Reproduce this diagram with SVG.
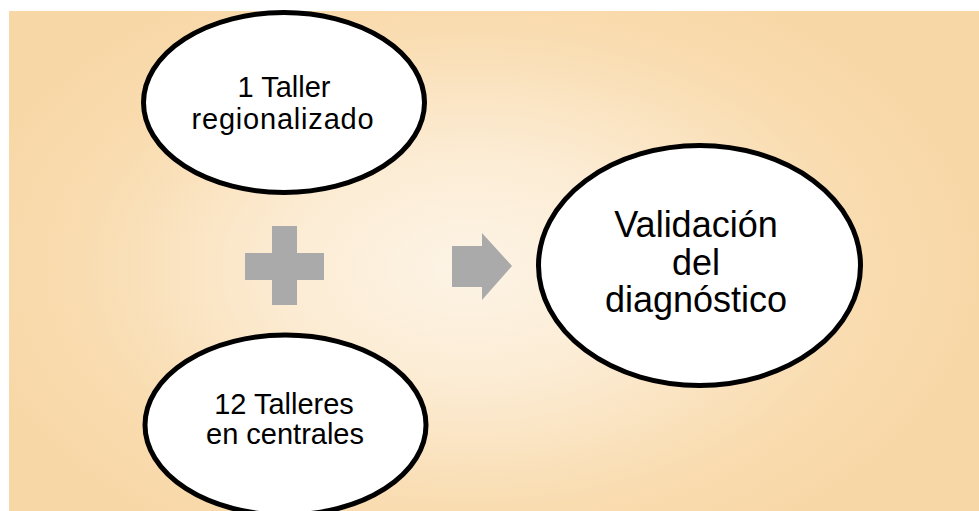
<svg xmlns="http://www.w3.org/2000/svg" width="979" height="511" viewBox="0 0 979 511">
  <defs>
    <radialGradient id="bg" gradientUnits="userSpaceOnUse" cx="470" cy="268" r="520" gradientTransform="translate(470 268) scale(1 0.62) translate(-470 -268)">
      <stop offset="0" stop-color="#fdf4e6"/>
      <stop offset="0.35" stop-color="#fcecd4"/>
      <stop offset="0.75" stop-color="#f9dcb0"/>
      <stop offset="1" stop-color="#f8d7a6"/>
    </radialGradient>
    <style>
      .node { fill: #ffffff; stroke: #000000; stroke-width: 5; }
      .label { font-family: "Liberation Sans", Arial, sans-serif; fill: #000000; text-anchor: middle; }
      .small { font-size: 29px; }
      .big { font-size: 36px; }
      .sym { fill: #aaaaaa; stroke: none; }
    </style>
  </defs>
  <rect x="0" y="0" width="979" height="511" fill="#ffffff"/>
  <rect x="9" y="11" width="970" height="500" fill="url(#bg)"/>

  <g id="node-taller-regionalizado">
    <ellipse class="node" cx="284" cy="102.5" rx="140.5" ry="90"/>
    <text class="label small" x="284" y="97">1 Taller</text>
    <text class="label small" x="283" y="129" letter-spacing="0.8">regionalizado</text>
  </g>

  <g id="node-talleres-centrales">
    <ellipse class="node" cx="285.5" cy="425" rx="140.5" ry="90"/>
    <text class="label small" x="284" y="414">12 Talleres</text>
    <text class="label small" x="285" y="444">en centrales</text>
  </g>

  <g id="node-validacion">
    <ellipse class="node" cx="699.5" cy="265.5" rx="161" ry="120"/>
    <text class="label big" x="696" y="237">Validación</text>
    <text class="label big" x="696" y="275">del</text>
    <text class="label big" x="696" y="312">diagnóstico</text>
  </g>

  <g id="plus-sign">
    <rect class="sym" x="272" y="226" width="25" height="79"/>
    <rect class="sym" x="245" y="253" width="79" height="27"/>
  </g>

  <g id="connectors">
    <polygon class="sym" points="452,246 482,246 482,233 512,266 482,300 482,287 452,287"/>
  </g>
</svg>
